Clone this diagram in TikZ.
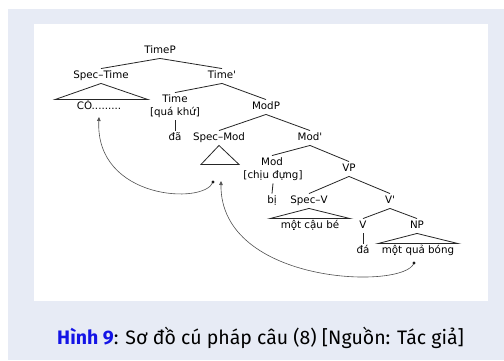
\documentclass[tikz,border=0pt]{standalone}
\usepackage{fontspec}
\setmainfont{DejaVu Sans}[Ligatures=TeXOff]
\newfontfamily\capfont{Fira Sans}
\usetikzlibrary{calc,arrows.meta}
\definecolor{panel}{RGB}{231,235,245}
\definecolor{capblue}{RGB}{20,20,230}
\definecolor{arcgray}{RGB}{80,80,80}
\begin{document}
\begin{tikzpicture}[x=1pt,y=-1pt,
  lab/.style={font=\fontsize{10.3}{12}\selectfont, text height=7.5pt, text depth=2pt, inner sep=2.5pt},
  br/.style={line width=0.8pt, draw=black!85},
  mv/.style={draw=arcgray, line width=0.6pt, -{Triangle[length=4pt,width=3.6pt]}},
  dotst/.style={fill=black!90}
  ]
\fill[white] (0,0) rectangle (504,360);
\fill[panel] (8,9) rectangle (504,360);
\fill[white] (34,24) rectangle (488,301);
\useasboundingbox (0,0) rectangle (504,360);

\node[lab] (TimeP) at (160,51) {TimeP};
\node[lab] (SpecTime) at (101,76) {Spec–Time};
\node[lab] (TimeBar) at (222,76) {Time'};
\node[lab] (CO) at (99,107) {CÓ.........};
\node[lab] (Time) at (175,100) {Time};
\node[lab] (TimeF) at (175,113) {[quá khứ]};
\node[lab] (da) at (175,138) {đã};
\node[lab] (ModP) at (266,107) {ModP};
\node[lab] (SpecMod) at (219,138) {Spec–Mod};
\node[lab] (ModBar) at (310,138) {Mod'};
\node[lab] (Mod) at (272,163) {Mod};
\node[lab] (ModF) at (273,176) {[chịu đựng]};
\node[lab] (bi) at (272,201) {bị};
\node[lab] (VP) at (349,169) {VP};
\node[lab] (SpecV) at (309,201) {Spec–V};
\node[lab] (VBar) at (390,201) {V'};
\node[lab] (cauBe) at (310,226) {một cậu bé};
\node[lab] (V) at (363,226) {V};
\node[lab] (NP) at (417,226) {NP};
\node[lab] (daV) at (363,251) {đá};
\node[lab] (qb) at (418,251) {một quả bóng};

\draw[br] (SpecTime.north) -- (TimeP.south) -- (TimeBar.north);
\draw[br] (SpecTime.south) -- ($(CO.north)+(-44,0)$) -- ($(CO.north)+(49,0)$) -- cycle;
\draw[br] (Time.north) -- (TimeBar.south) -- (ModP.north);
\draw[br] (TimeF.south) -- (da.north);
\draw[br] (SpecMod.north) -- (ModP.south) -- (ModBar.north);
\draw[br] (SpecMod.south) -- ($(SpecMod.south)+(-18,19)$) -- ($(SpecMod.south)+(20,19)$) -- cycle;
\draw[br] (Mod.north) -- (ModBar.south) -- (VP.north);
\draw[br] (ModF.south) -- (bi.north);
\draw[br] (SpecV.north) -- (VP.south) -- (VBar.north);
\draw[br] (SpecV.south) -- ($(cauBe.north)+(-40,0)$) -- ($(cauBe.north)+(40,0)$) -- cycle;
\draw[br] (V.north) -- (VBar.south) -- (NP.north);
\draw[br] (V.south) -- (daV.north);
\draw[br] (NP.south) -- ($(qb.north)+(-40,0)$) -- ($(qb.north)+(40,0)$) -- cycle;

\coordinate (d1) at (213,182);
\coordinate (t1) at (99,117);
\coordinate (d2) at (414,263);
\coordinate (t2) at (221,181);
\draw[mv] (d1) .. controls ($(d1)+(-8,23)$) and ($(t1)+(-4,83)$) .. (t1);
\draw[mv] (d2) .. controls ($(d2)+(-9,27)$) and ($(t2)+(-1,104)$) .. (t2);
\fill[dotst] (d1) circle (1.6pt);
\fill[dotst] (d2) circle (1.6pt);

\node[font=\capfont\fontsize{19.5}{23}\selectfont, inner sep=0pt] (cap) at (260.5,338) {\textcolor{capblue}{\textbf{Hình 9}}: Sơ đồ cú pháp câu (8) [Nguồn: Tác giả]};
\end{tikzpicture}
\end{document}
